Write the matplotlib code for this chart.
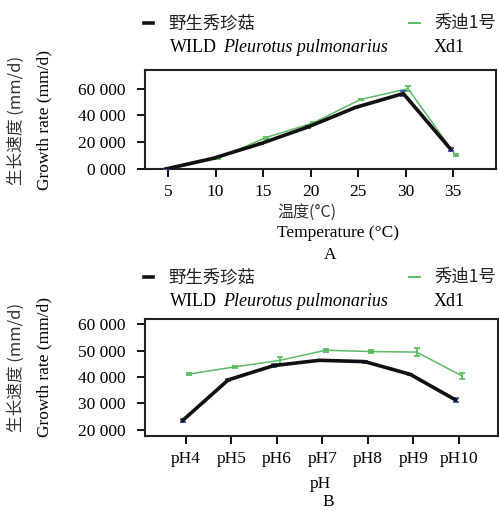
import matplotlib
matplotlib.use("Agg")
import matplotlib.pyplot as plt
from matplotlib.lines import Line2D
from matplotlib.ticker import FixedLocator, FixedFormatter

# panel A: temperature
temps = [5, 10, 15, 20, 25, 30, 35]
wild_temp = [0, 8000, 19000, 31500, 46100, 56400, 14600]
wild_temp_err = [300, 500, 500, 600, 500, 2000, 800]
xd1_temp = [0, 8000, 23400, 34400, 52000, 60000, 10300]
xd1_temp_err = [300, 500, 700, 600, 600, 1800, 700]

# panel B: pH
ph_labels = ["pH4", "pH5", "pH6", "pH7", "pH8", "pH9", "pH10"]
wild_ph = [23600, 38900, 44300, 46300, 45800, 41000, 31300]
wild_ph_err = [700, 400, 600, 300, 400, 300, 900]
xd1_ph = [41100, 43800, 46300, 50100, 49600, 49400, 40400]
xd1_ph_err = [300, 300, 1300, 500, 600, 1500, 1200]

ytick_a = [0, 20000, 40000, 60000]
ytick_a_lab = ["0 000", "20 000", "40 000", "60 000"]
ytick_b = [20000, 30000, 40000, 50000, 60000]
ytick_b_lab = ["20 000", "30 000", "40 000", "50 000", "60 000"]

serif = ["Liberation Serif", "Noto Sans CJK SC"]
cjk = ["Noto Sans CJK SC", "Liberation Serif"]
plt.rcParams["font.family"] = serif

black = "#111111"
green = "#5dbb63"
blue = "#3a55b0"

fig = plt.figure(figsize=(4.99, 5.11), dpi=100)
W, H = 499.0, 511.0

def fx(px):
    return px / W

def fy(py):
    return 1 - py / H

axA = fig.add_axes([fx(145), fy(169), fx(496) - fx(145), fy(70) - fy(169)])
axB = fig.add_axes([fx(145), fy(436), fx(498) - fx(145), fy(319) - fy(436)])

dA = 0.25
axA.errorbar([t - dA for t in temps], wild_temp, yerr=wild_temp_err, color=black, lw=2.6,
             ecolor=blue, elinewidth=1.3, capsize=2, capthick=1.3, zorder=3)
axA.errorbar([t + dA for t in temps], xd1_temp, yerr=xd1_temp_err, color=green, lw=1.1,
             ecolor=green, elinewidth=1.3, capsize=2, capthick=1.3, zorder=2)
axA.set_xlim(2.57, 39.5)
axA.set_ylim(0, 74000)
axA.xaxis.set_major_locator(FixedLocator(temps))
axA.yaxis.set_major_locator(FixedLocator(ytick_a))
axA.yaxis.set_major_formatter(FixedFormatter(ytick_a_lab))

xB = list(range(len(ph_labels)))
dB = 0.07
axB.errorbar([x - dB for x in xB], wild_ph, yerr=wild_ph_err, color=black, lw=2.6,
             ecolor=blue, elinewidth=1.3, capsize=2, capthick=1.3, zorder=3)
axB.errorbar([x + dB for x in xB], xd1_ph, yerr=xd1_ph_err, color=green, lw=1.1,
             ecolor=green, elinewidth=1.3, capsize=2, capthick=1.3, zorder=2)
axB.set_xlim(-0.9, 6.86)
axB.set_ylim(17700, 61900)
axB.set_xticks(xB)
axB.set_xticklabels(ph_labels)
axB.yaxis.set_major_locator(FixedLocator(ytick_b))
axB.yaxis.set_major_formatter(FixedFormatter(ytick_b_lab))

for ax in (axA, axB):
    for s in ax.spines.values():
        s.set_linewidth(1.5)
        s.set_color("#222222")
    ax.tick_params(direction="out", length=6, width=1.3, labelsize=12.5)
    ax.tick_params(axis="y", pad=8)
    ax.tick_params(axis="x", pad=5)
    for lab in ax.get_xticklabels() + ax.get_yticklabels():
        lab.set_fontfamily(serif)

# legends drawn above each panel
def legend_block(y1, y2):
    fig.add_artist(Line2D([fx(144), fx(153)], [fy(y1), fy(y1)], color=black, lw=2.6))
    fig.text(fx(168), fy(y1), "野生秀珍菇", family=cjk, fontsize=12.5, va="center", ha="left",
             color="#222222")
    fig.text(fx(170), fy(y2), "WILD", family=serif, fontsize=13, va="center", ha="left")
    fig.text(fx(223), fy(y2), "Pleurotus pulmonarius", family=serif, style="italic",
             fontsize=13, va="center", ha="left")
    fig.add_artist(Line2D([fx(409), fx(420)], [fy(y1), fy(y1)], color=green, lw=1.4))
    fig.text(fx(434), fy(y1), "秀迪1号", family=cjk, fontsize=12.5, va="center", ha="left",
             color="#222222")
    fig.text(fx(434), fy(y2), "Xd1", family=serif, fontsize=13, va="center", ha="left")

legend_block(23, 48)
legend_block(277, 302)

# y labels
for yc in (120, 367):
    fig.text(fx(16), fy(yc), "生长速度 (mm/d)", family=cjk, fontsize=12, rotation=90,
             va="center", ha="center", color="#333333")
    fig.text(fx(44), fy(yc), "Growth rate (mm/d)", family=serif, fontsize=12.5, rotation=90,
             va="center", ha="center")

# x labels
fig.text(fx(277), fy(212), "温度(°C)", family=cjk, fontsize=11.5, va="center", ha="left",
         color="#333333")
fig.text(fx(277), fy(233), "Temperature (°C)", family=serif, fontsize=12.5, va="center", ha="left")
fig.text(fx(330), fy(255), "A", family=serif, fontsize=12.5, va="center", ha="center")
fig.text(fx(320), fy(484), "pH", family=serif, fontsize=12.5, va="center", ha="center")
fig.text(fx(328), fy(502), "B", family=serif, fontsize=12.5, va="center", ha="center")

fig.savefig("out.png", dpi=100)
